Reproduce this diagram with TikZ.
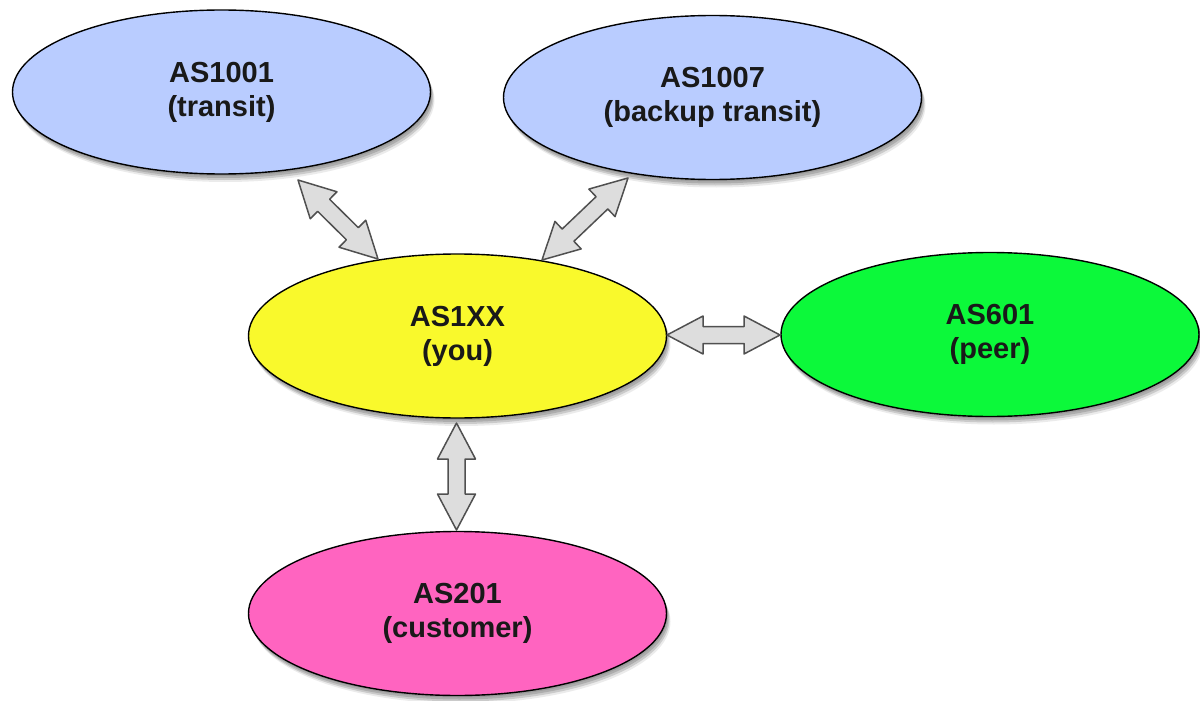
\documentclass[tikz,border=0pt]{standalone}
\usepackage{fontspec}
\setmainfont{Liberation Sans}
\usetikzlibrary{shapes.geometric,shadows,calc}
\definecolor{transitblue}{RGB}{185,204,255}
\definecolor{youyellow}{RGB}{249,249,44}
\definecolor{peergreen}{RGB}{12,249,58}
\definecolor{custpink}{RGB}{255,100,192}
\definecolor{arrowfill}{RGB}{221,221,221}
\definecolor{arrowline}{RGB}{80,80,80}
\tikzset{
  blurshadow/.style={
    general shadow={fill=black, opacity=.10, shadow xshift=1pt, shadow yshift=-2pt},
    general shadow={fill=black, opacity=.14, shadow xshift=2pt, shadow yshift=-4pt},
    general shadow={fill=black, opacity=.14, shadow xshift=3pt, shadow yshift=-6pt},
    general shadow={fill=black, opacity=.08, shadow xshift=4pt, shadow yshift=-8pt}},
  asnode/.style={ellipse, draw=black, line width=1.4pt, minimum width=418pt,
    minimum height=164pt, inner sep=0pt, align=center, text=black!90,
    font=\bfseries\fontsize{29}{34}\selectfont, blurshadow},
  linkarrow/.style={draw=arrowline, fill=arrowfill, line width=1.5pt, line join=round}
}
\newcommand\asarrow[2]{%
  \draw[linkarrow] (#1)
   -- ($($(#1)!36pt!(#2)$)!19pt!90:(#2)$)
   -- ($($(#1)!36pt!(#2)$)!8.5pt!90:(#2)$)
   -- ($($(#2)!36pt!(#1)$)!8.5pt!-90:(#1)$)
   -- ($($(#2)!36pt!(#1)$)!19pt!-90:(#1)$)
   -- (#2)
   -- ($($(#2)!36pt!(#1)$)!19pt!90:(#1)$)
   -- ($($(#2)!36pt!(#1)$)!8.5pt!90:(#1)$)
   -- ($($(#1)!36pt!(#2)$)!8.5pt!-90:(#2)$)
   -- ($($(#1)!36pt!(#2)$)!19pt!-90:(#2)$)
   -- cycle;}
\begin{document}
\begin{tikzpicture}[x=1pt, y=-1pt]
\useasboundingbox (0,0) rectangle (1200,701);
\node[asnode, fill=transitblue] (as1001) at (221.5,92) {AS1001\\(transit)};
\node[asnode, fill=transitblue] (as1007) at (712.5,97.5) {AS1007\\(backup transit)};
\node[asnode, fill=youyellow] (as1xx) at (457.5,336) {AS1XX\\(you)};
\node[asnode, fill=peergreen] (as601) at (990,334.5) {AS601\\(peer)};
\node[asnode, fill=custpink] (as201) at (457.5,613.5) {AS201\\(customer)};
\coordinate (a1s) at (298,180);
\coordinate (a1e) at (378,259);
\coordinate (a2s) at (628,178);
\coordinate (a2e) at (542,260);
\coordinate (a3s) at (667,335);
\coordinate (a3e) at (780,335);
\coordinate (a4s) at (456.5,423);
\coordinate (a4e) at (456.5,530);
\asarrow{a1s}{a1e}
\asarrow{a2s}{a2e}
\asarrow{a3s}{a3e}
\asarrow{a4s}{a4e}
\end{tikzpicture}
\end{document}
